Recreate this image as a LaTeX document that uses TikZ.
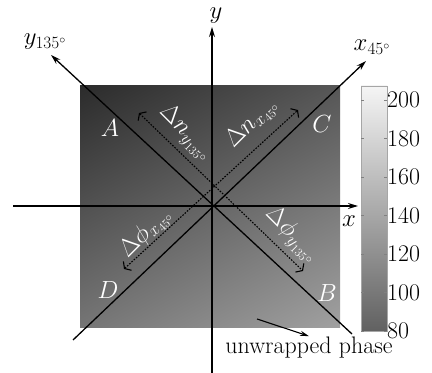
\documentclass[tikz,border=0pt]{standalone}
\usetikzlibrary{arrows.meta,shadings}
\definecolor{mapTL}{gray}{0.17}
\definecolor{mapTR}{gray}{0.34}
\definecolor{mapBL}{gray}{0.46}
\definecolor{mapBR}{gray}{0.63}
\definecolor{barlow}{gray}{0.38}
\definecolor{barhigh}{gray}{0.96}
\tikzset{
    axis/.style={line width=1.3bp, -{Stealth[length=10bp,width=6bp]}},
    span/.style={line width=1.1bp, dash pattern=on 1.6bp off 1.4bp,
        {Straight Barb[length=4bp,width=12bp]}-{Straight Barb[length=4bp,width=12bp]}},
    txt/.style={font=\fontsize{24}{27}\selectfont, inner sep=1bp},
    corner/.style={txt, text=white},
}
\begin{document}
\begin{tikzpicture}[x=1bp, y=1bp]
    \useasboundingbox (0,0) rectangle (432,373);
    \fill[white] (0,0) rectangle (432,373);

    % phase map
    \shade[upper left=mapTL, upper right=mapTR, lower left=mapBL, lower right=mapBR]
        (80,45) rectangle (340,287);

    % colour bar
    \shade[bottom color=barlow, top color=barhigh] (361,42) rectangle (387,287);
    \draw[gray!70, line width=0.6bp] (361,42) rectangle (387,287);
    \foreach \v in {80,100,...,200} {
        \pgfmathsetmacro{\ty}{42+(\v-80)*1.925}
        \draw[gray, line width=0.5bp] (361,\ty) -- ++(3,0);
        \draw[gray, line width=0.5bp] (387,\ty) -- ++(-3,0);
        \node[txt, anchor=west] (tick\v) at (386,\ty) {\v};
    }

    % axes
    \coordinate (O) at (212,167);
    \coordinate (xs) at (13,167);
    \coordinate (xe) at (358,167);
    \coordinate (ys) at (212,0);
    \coordinate (ye) at (212,346);
    \coordinate (ds) at (352,39);
    \coordinate (de) at (51,318);
    \coordinate (us) at (73,33);
    \coordinate (ue) at (366,312);
    \draw[axis] (xs) -- (xe);
    \draw[axis] (ys) -- (ye);
    \draw[axis] (ds) -- (de);
    \draw[axis] (us) -- (ue);
    \node[txt] (ylab) at (216,357) {$y$};
    \node[txt] (xlab) at (349,152) {$x$};
    \node[txt] (dlab) at (45,331) {$y_{135^\circ}$};
    \node[txt] (ulab) at (372,326) {$x_{45^\circ}$};

    % spans
    \coordinate (na) at (139,260);
    \coordinate (nb) at (303,102);
    \coordinate (pa) at (124,104);
    \coordinate (pb) at (298,263);
    \draw[span] (na) -- (nb);
    \draw[span] (pa) -- (pb);
    \node[corner, rotate=-45] (dny) at (186,240) {$\Delta n_{y_{135^\circ}}$};
    \node[corner, rotate=45] (dnx) at (252,250) {$\Delta n_{x_{45^\circ}}$};
    \node[corner, rotate=45] (dpx) at (146,140) {$\Delta\phi_{x_{45^\circ}}$};
    \node[corner, rotate=-45] (dpy) at (292,138) {$\Delta\phi_{y_{135^\circ}}$};

    % corners
    \node[corner] (A) at (110,245) {$A$};
    \node[corner] (C) at (322,249) {$C$};
    \node[corner] (D) at (108,83) {$D$};
    \node[corner] (B) at (327,80) {$B$};

    % note
    \node[txt] (note) at (309,25) {unwrapped phase};
    \coordinate (nt) at (257,54);
    \draw[line width=1.1bp, -{Stealth[length=9bp,width=5bp]}] (nt) -- (note.north);
\end{tikzpicture}
\end{document}
